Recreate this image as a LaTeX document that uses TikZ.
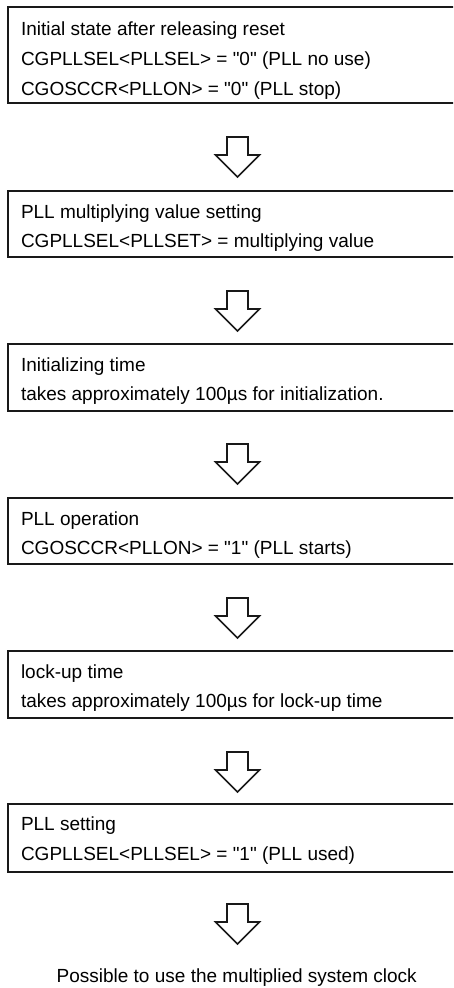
\documentclass[tikz,border=0pt]{standalone}
\usepackage{fontspec}
\setmainfont{Liberation Sans}[Ligatures=TeXOff]
\usetikzlibrary{calc}
\tikzset{
  stepbox/.style={draw=black!90, line width=1.8pt, rectangle, minimum width=480pt,
    anchor=north west, inner sep=0pt, outer sep=0pt},
  txt/.style={anchor=base west, inner sep=0pt, outer sep=0pt, font=\fontsize{19}{23}\selectfont},
  harrow/.style={draw=black!90, line width=1.6pt, line join=miter, fill=white}
}
\newcommand\hollowarrow[1]{%
  \draw[harrow] ($(#1)+(-10.5,0)$) -- ++(0,18) -- ++(-11.5,0) -- ++(22,22)
    -- ++(22,-22) -- ++(-11.5,0) -- ++(0,-18) -- cycle;}
\begin{document}
\begin{tikzpicture}[x=1pt,y=-1pt]
  \clip (0,0) rectangle (453,988);
  \fill[white] (0,0) rectangle (453,988);

  % boxes
  \node[stepbox, minimum height=96pt] (b1) at (8,7) {};
  \node[stepbox, minimum height=66pt] (b2) at (8,191) {};
  \node[stepbox, minimum height=67pt] (b3) at (8,344) {};
  \node[stepbox, minimum height=66pt] (b4) at (8,498) {};
  \node[stepbox, minimum height=67pt] (b5) at (8,651) {};
  \node[stepbox, minimum height=68pt] (b6) at (8,804) {};

  % texts
  \node[txt] (t1a) at (21,35) {Initial state after releasing reset};
  \node[txt] (t1b) at (21,65) {CGPLLSEL<PLLSEL> = "0" (PLL no use)};
  \node[txt] (t1c) at (21,95) {CGOSCCR<PLLON> = "0" (PLL stop)};

  \node[txt] (t2a) at (21,218) {PLL multiplying value setting};
  \node[txt] (t2b) at (21,247) {CGPLLSEL<PLLSET> = multiplying value};

  \node[txt] (t3a) at (21,371) {Initializing time};
  \node[txt] (t3b) at (21,400) {takes approximately 100µs for initialization.};

  \node[txt] (t4a) at (21,525) {PLL operation};
  \node[txt] (t4b) at (21,554) {CGOSCCR<PLLON> = "1" (PLL starts)};

  \node[txt] (t5a) at (21,678) {lock-up time};
  \node[txt] (t5b) at (21,707) {takes approximately 100µs for lock-up time};

  \node[txt] (t6a) at (21,830) {PLL setting};
  \node[txt] (t6b) at (21,860) {CGPLLSEL<PLLSEL> = "1" (PLL used)};

  \node[anchor=base, inner sep=0pt, font=\fontsize{19}{23}\selectfont] (fin) at (236.7,982)
    {Possible to use the multiplied system clock};

  % hollow arrows
  \coordinate (a1) at ($(b1.south west)+(229.5,34)$);
  \coordinate (a2) at ($(b2.south west)+(229.5,34)$);
  \coordinate (a3) at ($(b3.south west)+(229.5,33)$);
  \coordinate (a4) at ($(b4.south west)+(229.5,34)$);
  \coordinate (a5) at ($(b5.south west)+(229.5,34)$);
  \coordinate (a6) at ($(b6.south west)+(229.5,32)$);
  \hollowarrow{a1}
  \hollowarrow{a2}
  \hollowarrow{a3}
  \hollowarrow{a4}
  \hollowarrow{a5}
  \hollowarrow{a6}
\end{tikzpicture}
\end{document}
